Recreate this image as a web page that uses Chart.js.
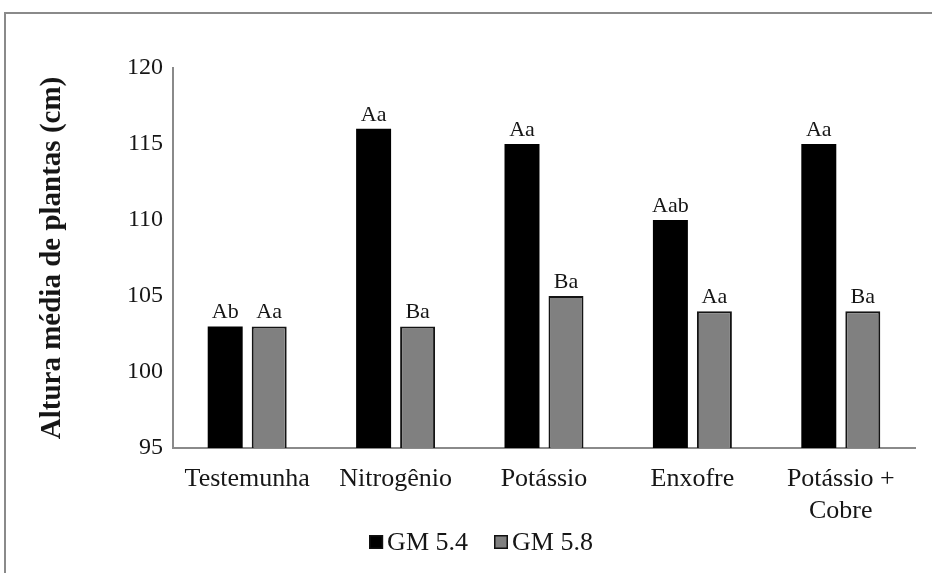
<!DOCTYPE html>
<html><head><meta charset="utf-8">
<script src="https://cdn.jsdelivr.net/npm/chart.js@4.4.1/dist/chart.umd.min.js"></script>
<style>
html,body{margin:0;padding:0;background:#fff;}
#wrap{position:relative;width:932px;height:573px;overflow:hidden;}
#frame{position:absolute;left:4px;top:12px;width:1000px;height:1000px;border-left:2px solid #8a8a8a;border-top:2px solid #8a8a8a;}
canvas{position:absolute;left:0;top:0;}
</style></head><body>
<div id="wrap"><div id="frame"></div><canvas id="c" width="932" height="573"></canvas></div>
<script>
const categories = ['Testemunha', 'Nitrogênio', 'Potássio', 'Enxofre', ['Potássio +', 'Cobre']];
const seriesNames = ['GM 5.4', 'GM 5.8'];
const gm54 = [103, 116, 115, 110, 115];
const gm58 = [103, 103, 105, 104, 104];
const gm54Letters = ['Ab', 'Aa', 'Aa', 'Aab', 'Aa'];
const gm58Letters = ['Aa', 'Ba', 'Ba', 'Aa', 'Ba'];
const yTicks = [95, 100, 105, 110, 115, 120];
const yTitle = 'Altura média de plantas (cm)';

const FONT = '"Liberation Serif", "Times New Roman", serif';
const TEXT = '#161616';

const letterPlugin = {
  id: 'letters',
  afterDatasetsDraw(chart) {
    const ctx = chart.ctx;
    ctx.save();
    ctx.font = '22px ' + FONT;
    ctx.fillStyle = TEXT;
    ctx.textAlign = 'center';
    ctx.textBaseline = 'alphabetic';
    chart.data.datasets.forEach((ds, di) => {
      const meta = chart.getDatasetMeta(di);
      meta.data.forEach((el, i) => {
        ctx.fillText(ds.letters[i], el.x, el.y - 8);
      });
    });
    ctx.restore();
  }
};

const legendPlugin = {
  id: 'customLegend',
  afterDraw(chart) {
    const ctx = chart.ctx;
    ctx.save();
    ctx.font = '26px ' + FONT;
    const box = 14, gapText = 4, gapItem = 26;
    const items = chart.data.datasets.map(ds => ({ds, w: box + gapText + ctx.measureText(ds.label).width}));
    const total = items.reduce((s, it) => s + it.w, 0) + gapItem * (items.length - 1);
    let x = 481 - total / 2;
    const cy = 542;
    ctx.textBaseline = 'middle';
    ctx.textAlign = 'left';
    items.forEach(it => {
      ctx.fillStyle = it.ds.backgroundColor;
      ctx.fillRect(x, cy - 7, box, 14);
      ctx.lineWidth = 1.5;
      ctx.strokeStyle = '#111';
      ctx.strokeRect(x + 0.75, cy - 7 + 0.75, box - 1.5, 14 - 1.5);
      ctx.fillStyle = TEXT;
      ctx.fillText(it.ds.label, x + box + gapText, cy + 1);
      x += it.w + gapItem;
    });
    ctx.restore();
  }
};

new Chart(document.getElementById('c'), {
  type: 'bar',
  data: {
    labels: categories,
    datasets: [
      {label: seriesNames[0], data: gm54, letters: gm54Letters, backgroundColor: '#000000', borderColor: '#000000', borderWidth: 0,
       categoryPercentage: 0.593, barPercentage: 0.795},
      {label: seriesNames[1], data: gm58, letters: gm58Letters, backgroundColor: '#808080', borderColor: '#141414', borderWidth: 2,
       categoryPercentage: 0.593, barPercentage: 0.795}
    ]
  },
  options: {
    responsive: false,
    animation: false,
    devicePixelRatio: 1,
    layout: {padding: {left: 0, right: 17, top: 68, bottom: 53}},
    plugins: {legend: {display: false}, tooltip: {enabled: false}},
    scales: {
      x: {
        grid: {display: false, drawTicks: false},
        border: {display: true, color: '#8a8a8a', width: 2},
        ticks: {font: {family: FONT, size: 26, lineHeight: 1.23}, color: TEXT, padding: 15, maxRotation: 0, autoSkip: false},
        afterFit(scale) { scale.height = 72; }
      },
      y: {
        min: 95, max: 120,
        grid: {display: false, drawTicks: false},
        border: {display: true, color: '#8a8a8a', width: 2},
        ticks: {font: {family: FONT, size: 24}, color: TEXT, padding: 10},
        afterBuildTicks(scale) { scale.ticks = yTicks.map(v => ({value: v})); },
        title: {display: true, text: yTitle, font: {family: FONT, size: 29, weight: 'bold'}, color: TEXT, padding: {top: 35, bottom: 0}},
        afterFit(scale) { scale.width = 173; }
      }
    }
  },
  plugins: [letterPlugin, legendPlugin]
});
</script>
</body></html>
